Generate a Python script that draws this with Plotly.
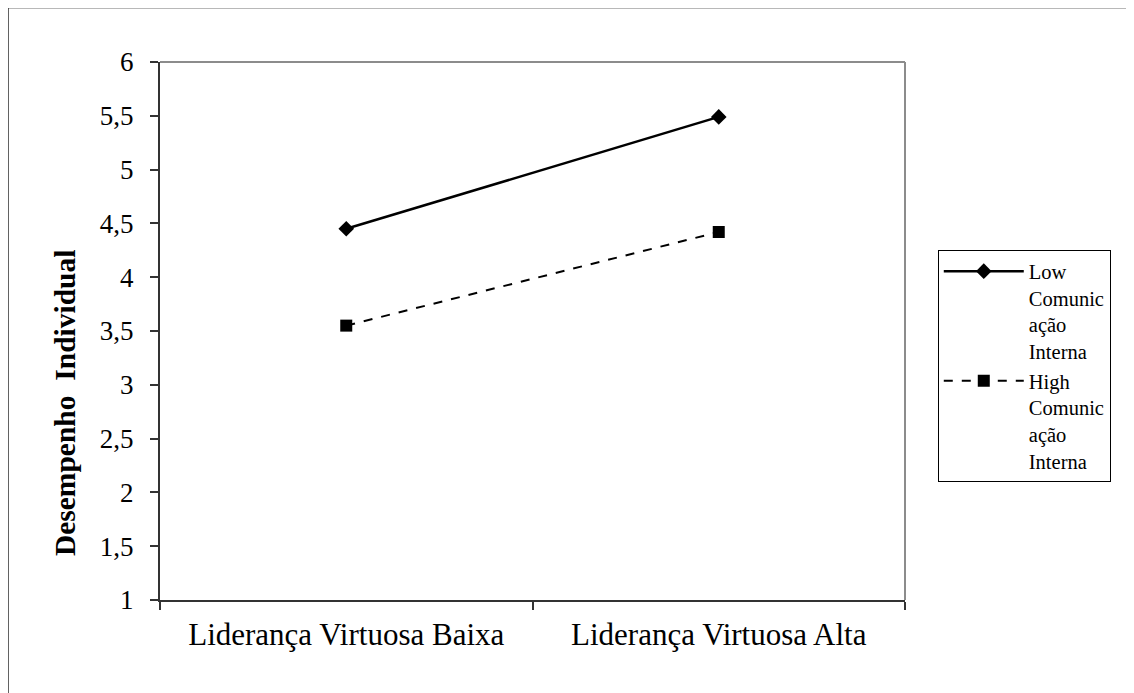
import plotly.graph_objects as go

categories = ["Liderança Virtuosa Baixa", "Liderança Virtuosa Alta"]
low_values = [4.45, 5.49]
high_values = [3.55, 4.42]
series_names = ["Low<br>Comunic<br>ação<br>Interna", "High<br>Comunic<br>ação<br>Interna"]
y_ticks = [1, 1.5, 2, 2.5, 3, 3.5, 4, 4.5, 5, 5.5, 6]
y_title = "Desempenho  Individual"

FONT = "Liberation Serif"

fig = go.Figure()
fig.add_trace(go.Scatter(
    x=categories, y=low_values, name=series_names[0], mode="lines+markers",
    line=dict(color="black", width=2.5, dash="solid"),
    marker=dict(symbol="diamond", size=12, color="black"),
))
fig.add_trace(go.Scatter(
    x=categories, y=high_values, name=series_names[1], mode="lines+markers",
    line=dict(color="black", width=2, dash="dash"),
    marker=dict(symbol="square", size=12, color="black"),
))

fig.update_layout(
    width=1134, height=693,
    margin=dict(l=152, r=237, t=54, b=101),
    paper_bgcolor="white", plot_bgcolor="white",
    separators=", ",
    font=dict(family=FONT, color="black"),
    showlegend=True,
    legend=dict(
        x=1.044, y=0.650, xanchor="left", yanchor="top",
        bordercolor="black", borderwidth=1, bgcolor="white",
        font=dict(family=FONT, size=20.5, color="black"),
        tracegroupgap=0, valign="top", itemwidth=80,
    ),
    xaxis=dict(
        type="category", range=[-0.5, 1.5], tickson="boundaries",
        ticks="outside", ticklen=8, tickcolor="#333", tickwidth=1.5,
        showline=True, linecolor="#333", linewidth=2,
        showgrid=False, zeroline=False,
        tickfont=dict(family=FONT, size=31, color="black"),
        ticklabelstandoff=6,
    ),
    yaxis=dict(
        range=[1, 6], tickvals=y_ticks,
        ticks="outside", ticklen=8, tickcolor="#333", tickwidth=1.5,
        showline=True, linecolor="#333", linewidth=2,
        showgrid=False, zeroline=False,
        tickfont=dict(family=FONT, size=27, color="black"),
        ticklabelstandoff=11,
    ),
)

fig.add_annotation(
    text="<b>" + y_title + "</b>", textangle=-90,
    xref="paper", yref="paper", x=-0.1275, y=0.366,
    xanchor="center", yanchor="middle", showarrow=False,
    font=dict(family=FONT, size=29.5, color="black"),
)

# plot area top/right borders (gray)
fig.add_shape(type="line", xref="paper", yref="paper", x0=0, x1=1, y0=1, y1=1,
              line=dict(color="#8c8c8c", width=2))
fig.add_shape(type="line", xref="paper", yref="paper", x0=1, x1=1, y0=0, y1=1,
              line=dict(color="#8c8c8c", width=2))
# chart outer frame
fig.add_shape(type="line", xref="paper", yref="paper", x0=-0.204, x1=1.4, y0=1.1004, y1=1.1004,
              line=dict(color="#a0a0a0", width=1.5))
fig.add_shape(type="line", xref="paper", yref="paper", x0=-0.204, x1=-0.204, y0=-0.2, y1=1.1004,
              line=dict(color="#333", width=1.5))

fig.write_html("out.html")
